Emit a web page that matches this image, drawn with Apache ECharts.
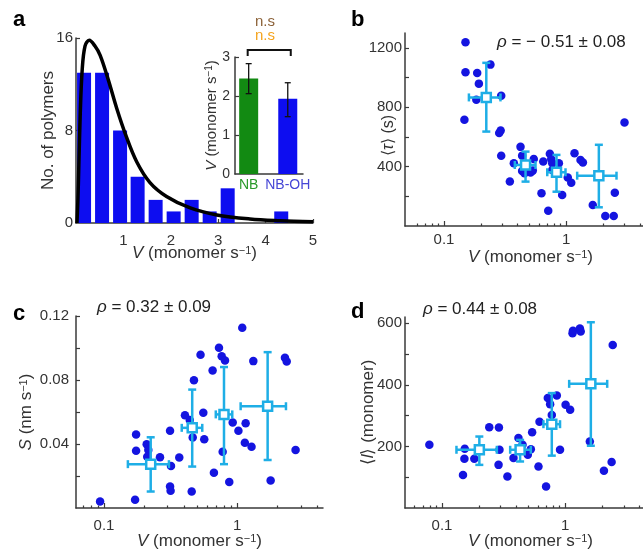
<!DOCTYPE html>
<html>
<head>
<meta charset="utf-8">
<script src="https://cdn.jsdelivr.net/npm/echarts@6/dist/echarts.min.js"></script>
<style>
html, body { margin: 0; padding: 0; background: #fff; }
#main { width: 643px; height: 550px; }
</style>
</head>
<body>
<div id="main"></div>
<script>
// ---- a: histogram of velocities + fit ----
var histV = [0.17, 0.55, 0.93, 1.30, 1.68, 2.06, 2.44, 2.82, 3.20, 3.57, 3.95, 4.33];
var histN = [13, 13, 8, 4, 2, 1, 2, 1, 3, 0, 0, 1];
var fitV = [0.02, 0.04, 0.06, 0.09, 0.13, 0.19, 0.28, 0.40, 0.51, 0.68, 0.86, 1.05, 1.28, 1.56, 1.91, 2.41, 2.97, 3.67, 4.30, 5.00];
var fitN = [0, 2, 5, 9.5, 13.2, 15.3, 15.8, 15.3, 14.5, 12.4, 9.9, 7.6, 5.3, 3.5, 2.3, 1.3, 0.7, 0.35, 0.2, 0.1];
// a inset
var insetCats = ['NB', 'NB-OH'];
var insetMean = [2.45, 1.93];
var insetLo = [2.06, 1.47];
var insetHi = [2.83, 2.34];
var insetMax = 3;

// ---- b: <tau> vs V ----
var bV = [0.150, 0.150, 0.187, 0.240, 0.193, 0.184, 0.294, 0.147, 0.291, 0.283, 0.294, 0.423, 0.436, 0.373, 0.543, 0.436, 0.511, 0.533, 0.346, 0.649, 0.735, 0.754, 0.769, 0.871, 0.769, 0.628, 0.713, 0.927, 1.03, 1.10, 1.17, 1.31, 1.37, 1.65, 2.09, 2.45, 2.50, 3.0, 0.456];
var bTau = [1238, 1035, 1031, 1087, 959, 851, 878, 716, 643, 626, 473, 533, 474, 423, 452, 371, 360, 373, 299, 434, 486, 452, 423, 423, 378, 220, 103, 209, 326, 292, 490, 445, 427, 141, 67, 67, 224, 697, 355];
// binned means: [V, tau, Vlo, Vhi, taulo, tauhi]
var bBins = [
  [0.222, 866, 0.160, 0.290, 636, 1099],
  [0.465, 411, 0.380, 0.561, 299, 501],
  [0.833, 362, 0.700, 0.987, 231, 479],
  [1.85, 339, 1.23, 2.58, 126, 547]
];

// ---- c: S vs V ----
var cV = [0.53, 0.473, 0.174, 0.313, 0.405, 0.44, 0.556, 0.565, 0.463, 0.174, 0.209, 0.215, 0.211, 0.263, 0.367, 0.318, 0.313, 0.316, 0.455, 0.0934, 0.171, 1.09, 0.729, 0.764, 0.809, 0.653, 1.32, 2.28, 2.35, 0.924, 1.156, 1.02, 1.14, 1.28, 0.777, 2.74, 0.668, 0.871, 1.78];
var cS = [0.0958, 0.0798, 0.0460, 0.0483, 0.0580, 0.0550, 0.0595, 0.0429, 0.0441, 0.0358, 0.0398, 0.0363, 0.0321, 0.0317, 0.0315, 0.0263, 0.0134, 0.0108, 0.0103, 0.0041, 0.0052, 0.1126, 0.1001, 0.0949, 0.0922, 0.0860, 0.0918, 0.0939, 0.0916, 0.0535, 0.0529, 0.0483, 0.0408, 0.0383, 0.0352, 0.0363, 0.0221, 0.0162, 0.0172];
var cBins = [
  [0.224, 0.0274, 0.151, 0.307, 0.0103, 0.0442],
  [0.459, 0.0501, 0.383, 0.546, 0.0259, 0.0740],
  [0.795, 0.0585, 0.690, 0.917, 0.0274, 0.0881],
  [1.69, 0.0636, 1.06, 2.32, 0.0300, 0.0974]
];

// ---- d: <l> vs V ----
var dV = [0.0789, 0.153, 0.152, 0.148, 0.183, 0.242, 0.290, 0.293, 0.288, 0.340, 0.381, 0.418, 0.451, 0.498, 0.527, 0.540, 0.62, 0.608, 1.15, 1.16, 1.32, 1.34, 2.44, 0.724, 0.857, 0.756, 1.01, 1.10, 0.78, 0.91, 0.701, 1.59, 2.39, 2.07];
var dL = [205, 192, 160, 107, 160, 262, 261, 189, 140, 102, 162, 227, 205, 173, 191, 246, 280, 135, 567, 575, 583, 573, 529, 357, 365, 337, 335, 319, 302, 189, 70, 216, 149, 121];
var dBins = [
  [0.201, 189, 0.131, 0.279, 140, 232],
  [0.431, 189, 0.358, 0.527, 151, 221],
  [0.78, 272, 0.667, 0.91, 170, 373],
  [1.62, 403, 1.08, 2.20, 202, 603]
];

// tick values
var logMajor = [0.1, 1];
var logMinor = [0.06, 0.07, 0.08, 0.09, 0.2, 0.3, 0.4, 0.5, 0.6, 0.7, 0.8, 0.9, 2, 3, 4];

var font = 'Arial, "Liberation Sans", Helvetica, sans-serif';
var axisColor = '#3a3a3a';
var textColor = '#333333';
var dotColor = '#1414e0';
var cyan = '#1eaee6';

function pairs(xs, ys) {
  return xs.map(function (x, i) { return [x, ys[i]]; });
}

function nameRich(size) {
  return {
    i: { fontStyle: 'italic', fontSize: size, fontFamily: font, color: textColor },
    sup: { fontSize: Math.round(size * 0.65), fontFamily: font, color: textColor, verticalAlign: 'top' }
  };
}

// one axis, ticks inside, labels/ticks from given lists
function mkAxis(p) {
  var size = p.nameSize || 17;
  return {
    type: p.type || 'value',
    gridIndex: p.grid,
    position: p.position,
    min: p.min,
    max: p.max,
    logBase: 10,
    axisLine: { show: p.line !== false, onZero: false, lineStyle: { color: axisColor, width: 1.5 } },
    axisTick: { show: !!p.ticks, inside: true, length: p.tickLen || 4, customValues: p.ticks, lineStyle: { color: axisColor, width: 1.2 } },
    axisLabel: {
      show: !!p.labels, customValues: p.labels, margin: p.margin == null ? 4 : p.margin,
      color: textColor, fontSize: p.fontSize || 15, fontFamily: font,
      formatter: p.formatter || function (v) { return String(v); }, rich: p.rich
    },
    splitLine: { show: false },
    minorTick: { show: false },
    minorSplitLine: { show: false },
    name: p.name || '',
    nameLocation: 'middle',
    nameGap: p.nameGap || 20,
    nameMoveOverlap: false,
    nameTextStyle: { color: textColor, fontSize: size, fontFamily: font, rich: nameRich(size), padding: p.namePad || 0 }
  };
}

// binned mean with x and y error bars, square marker
function binRender(params, api) {
  var c = api.coord([api.value(0), api.value(1)]);
  var xl = api.coord([api.value(2), api.value(1)])[0];
  var xr = api.coord([api.value(3), api.value(1)])[0];
  var yb = api.coord([api.value(0), api.value(4)])[1];
  var yt = api.coord([api.value(0), api.value(5)])[1];
  var cap = 4, h = 4.5;
  var st = { stroke: cyan, lineWidth: 2.5 };
  function ln(x1, y1, x2, y2) {
    return { type: 'line', shape: { x1: x1, y1: y1, x2: x2, y2: y2 }, style: st };
  }
  return {
    type: 'group',
    children: [
      ln(xl, c[1], xr, c[1]), ln(c[0], yb, c[0], yt),
      ln(xl, c[1] - cap, xl, c[1] + cap), ln(xr, c[1] - cap, xr, c[1] + cap),
      ln(c[0] - cap, yb, c[0] + cap, yb), ln(c[0] - cap, yt, c[0] + cap, yt),
      { type: 'rect', shape: { x: c[0] - h, y: c[1] - h, width: 2 * h, height: 2 * h }, style: { fill: '#fff', stroke: cyan, lineWidth: 2.5 } }
    ]
  };
}

// inset error bars (black)
function insetErrRender(params, api) {
  var x = api.value(0);
  var lo = api.coord([x, api.value(2)]);
  var hi = api.coord([x, api.value(3)]);
  var w = 3;
  var st = { stroke: '#111', lineWidth: 1.3 };
  return {
    type: 'group',
    children: [
      { type: 'line', shape: { x1: lo[0], y1: lo[1], x2: hi[0], y2: hi[1] }, style: st },
      { type: 'line', shape: { x1: lo[0] - w, y1: lo[1], x2: lo[0] + w, y2: lo[1] }, style: st },
      { type: 'line', shape: { x1: hi[0] - w, y1: hi[1], x2: hi[0] + w, y2: hi[1] }, style: st }
    ]
  };
}

// bracket between the two inset bars
function bracketRender(params, api) {
  var p1 = api.coord([api.value(0), insetMax]);
  var p2 = api.coord([api.value(1), insetMax]);
  var y0 = p1[1] - 1, y1 = p1[1] - 7;
  return {
    type: 'polyline',
    shape: { points: [[p1[0] - 1, y0], [p1[0] - 1, y1], [p2[0] + 3, y1], [p2[0] + 3, y0]] },
    style: { stroke: '#111', lineWidth: 2, fill: null }
  };
}

var insetBars = insetCats.map(function (c, i) {
  return { value: [i + 1, insetMean[i]], itemStyle: { color: i === 0 ? '#128a12' : '#0d0df0' } };
});
var insetErr = insetCats.map(function (c, i) { return [i + 1, insetMean[i], insetLo[i], insetHi[i]]; });

var vName = '{i|V} (monomer s{sup|−1})';
var rhoRich = { i: { fontStyle: 'italic', fontSize: 17, fontFamily: font, fill: '#222' } };

var chart = echarts.init(document.getElementById('main'), null, { renderer: 'canvas' });
var option = {
  animation: false,
  backgroundColor: '#fff',
  textStyle: { fontFamily: font },
  grid: [
    { left: 76, top: 38, width: 237, height: 185, containLabel: false, outerBoundsMode: 'none' },
    { left: 235, top: 57, width: 68, height: 117, containLabel: false, outerBoundsMode: 'none' },
    { left: 405, top: 33, width: 238, height: 193, containLabel: false, outerBoundsMode: 'none' },
    { left: 76, top: 316, width: 247, height: 192, containLabel: false, outerBoundsMode: 'none' },
    { left: 405, top: 317, width: 238, height: 191, containLabel: false, outerBoundsMode: 'none' }
  ],
  xAxis: [
    mkAxis({ grid: 0, position: 'bottom', min: 0, max: 5, ticks: [1, 2, 3, 4, 5], labels: [1, 2, 3, 4, 5], margin: 10, name: vName, nameGap: 22 }),
    mkAxis({ grid: 1, position: 'bottom', min: 0.65, max: 2.39, labels: [1, 2], margin: 4, fontSize: 14,
      formatter: function (v) { var i = Math.round(v) - 1; return '{c' + i + '|' + insetCats[i] + '}'; },
      rich: { c0: { color: '#2a9a2a', fontSize: 14, fontFamily: font }, c1: { color: '#4646d6', fontSize: 14, fontFamily: font } } }),
    mkAxis({ grid: 2, type: 'log', position: 'bottom', min: 0.048, max: 4.25, ticks: logMajor, tickLen: 5, labels: logMajor, margin: 6, name: vName, nameGap: 23, namePad: [0, 0, 0, 13] }),
    mkAxis({ grid: 2, type: 'log', position: 'bottom', min: 0.048, max: 4.25, ticks: logMinor, tickLen: 2.5, line: false }),
    mkAxis({ grid: 3, type: 'log', position: 'bottom', min: 0.0616, max: 4.4, ticks: logMajor, tickLen: 5, labels: logMajor, margin: 10, name: vName, nameGap: 25 }),
    mkAxis({ grid: 3, type: 'log', position: 'bottom', min: 0.0616, max: 4.4, ticks: logMinor, tickLen: 2.5, line: false }),
    mkAxis({ grid: 4, type: 'log', position: 'bottom', min: 0.05, max: 4.3, ticks: logMajor, tickLen: 5, labels: logMajor, margin: 10, name: vName, nameGap: 25, namePad: [0, 0, 0, 13] }),
    mkAxis({ grid: 4, type: 'log', position: 'bottom', min: 0.05, max: 4.3, ticks: logMinor, tickLen: 2.5, line: false })
  ],
  yAxis: [
    mkAxis({ grid: 0, min: 0, max: 16, ticks: [8, 16], labels: [0, 8, 16], margin: 3, name: 'No. of polymers', nameGap: 19 }),
    mkAxis({ grid: 1, min: 0, max: insetMax, ticks: [1, 2, 3], labels: [0, 1, 2, 3], margin: 5, fontSize: 14, name: vName, nameSize: 15, nameGap: 16 }),
    mkAxis({ grid: 2, min: 0, max: 1300, ticks: [200, 400, 600, 800, 1000, 1200], labels: [400, 800, 1200], margin: 3, name: '⟨{i|τ}⟩ (s)', nameSize: 16, nameGap: 8, namePad: [0, 12, 0, 0] }),
    mkAxis({ grid: 3, min: 0, max: 0.12, ticks: [0.02, 0.04, 0.06, 0.08, 0.1, 0.12], labels: [0.04, 0.08, 0.12], margin: 7, name: '{i|S} (nm s{sup|−1})', nameGap: 41 }),
    mkAxis({ grid: 4, min: 0, max: 620, ticks: [100, 200, 300, 400, 500, 600], labels: [200, 400, 600], margin: 3, name: '⟨{i|l}⟩ (monomer)', nameGap: 28 })
  ],
  series: [
    { type: 'bar', xAxisIndex: 0, yAxisIndex: 0, data: pairs(histV, histN), barWidth: 14, itemStyle: { color: '#0d0df0' }, z: 2 },
    { type: 'line', xAxisIndex: 0, yAxisIndex: 0, data: pairs(fitV, fitN), smooth: 0.35, showSymbol: false, symbol: 'none',
      lineStyle: { color: '#000', width: 3.5 }, z: 3 },
    { type: 'bar', xAxisIndex: 1, yAxisIndex: 1, data: insetBars, barWidth: 19, z: 4 },
    { type: 'custom', xAxisIndex: 1, yAxisIndex: 1, data: insetErr, renderItem: insetErrRender, z: 5 },
    { type: 'custom', xAxisIndex: 1, yAxisIndex: 1, data: [[1, 2]], renderItem: bracketRender, clip: false, z: 5 },

    { type: 'scatter', xAxisIndex: 2, yAxisIndex: 2, data: pairs(bV, bTau), symbolSize: 8.5, itemStyle: { color: dotColor, opacity: 1 }, z: 2 },
    { type: 'custom', xAxisIndex: 2, yAxisIndex: 2, data: bBins, renderItem: binRender, z: 3 },
    { type: 'scatter', xAxisIndex: 4, yAxisIndex: 3, data: pairs(cV, cS), symbolSize: 8.5, itemStyle: { color: dotColor, opacity: 1 }, z: 2 },
    { type: 'custom', xAxisIndex: 4, yAxisIndex: 3, data: cBins, renderItem: binRender, z: 3 },
    { type: 'scatter', xAxisIndex: 6, yAxisIndex: 4, data: pairs(dV, dL), symbolSize: 8.5, itemStyle: { color: dotColor, opacity: 1 }, z: 2 },
    { type: 'custom', xAxisIndex: 6, yAxisIndex: 4, data: dBins, renderItem: binRender, z: 3 }
  ],
  graphic: [
    { type: 'text', x: 13, y: 20.4, style: { text: 'a', fontSize: 22, fontWeight: 'bold', fontFamily: font, fill: '#000', verticalAlign: 'middle' } },
    { type: 'text', x: 351, y: 20.4, style: { text: 'b', fontSize: 22, fontWeight: 'bold', fontFamily: font, fill: '#000', verticalAlign: 'middle' } },
    { type: 'text', x: 13, y: 314, style: { text: 'c', fontSize: 22, fontWeight: 'bold', fontFamily: font, fill: '#000', verticalAlign: 'middle' } },
    { type: 'text', x: 351, y: 312.4, style: { text: 'd', fontSize: 22, fontWeight: 'bold', fontFamily: font, fill: '#000', verticalAlign: 'middle' } },
    { type: 'text', x: 265, y: 22, style: { text: 'n.s', fontSize: 15, fontFamily: font, fill: '#8c6239', align: 'center', verticalAlign: 'middle' } },
    { type: 'text', x: 265, y: 36, style: { text: 'n.s', fontSize: 15, fontFamily: font, fill: '#f5a41e', align: 'center', verticalAlign: 'middle' } },
    { type: 'text', x: 497, y: 42.4, style: { text: '{i|ρ} = − 0.51 ± 0.08', fontSize: 17, fontFamily: font, fill: '#222', verticalAlign: 'middle', rich: rhoRich } },
    { type: 'text', x: 97, y: 307.4, style: { text: '{i|ρ} = 0.32 ± 0.09', fontSize: 17, fontFamily: font, fill: '#222', verticalAlign: 'middle', rich: rhoRich } },
    { type: 'text', x: 423, y: 309, style: { text: '{i|ρ} = 0.44 ± 0.08', fontSize: 17, fontFamily: font, fill: '#222', verticalAlign: 'middle', rich: rhoRich } }
  ]
};
chart.setOption(option);
</script>
</body>
</html>
